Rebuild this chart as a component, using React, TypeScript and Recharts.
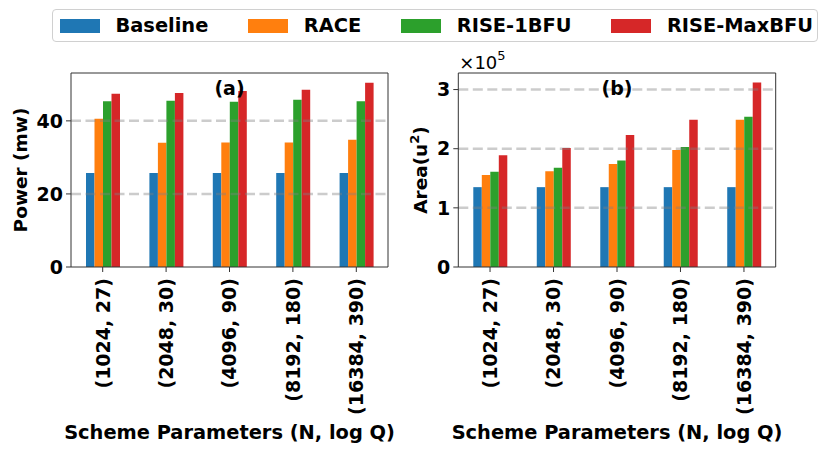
import React from "react";
import {
	BarChart,
	Bar,
	XAxis,
	YAxis,
	ReferenceLine,
} from "recharts";

const categories = ["(1024, 27)", "(2048, 30)", "(4096, 90)", "(8192, 180)", "(16384, 390)"];
const seriesNames = ["Baseline", "RACE", "RISE-1BFU", "RISE-MaxBFU"];
const seriesColors = ["#1f77b4", "#ff7f0e", "#2ca02c", "#d62728"];

// power in mW
const powerBaseline = [25.7, 25.7, 25.7, 25.7, 25.7];
const powerRace = [40.6, 34.0, 34.1, 34.1, 34.8];
const power1Bfu = [45.4, 45.5, 45.2, 45.8, 45.4];
const powerMaxBfu = [47.4, 47.6, 48.2, 48.5, 50.4];
const powerTicks = [0, 20, 40];

// area in u^2
const areaBaseline = [135000, 135000, 135000, 135000, 135000];
const areaRace = [155500, 162000, 174000, 198000, 249000];
const area1Bfu = [161000, 168000, 180000, 203000, 254000];
const areaMaxBfu = [189000, 201000, 223000, 249000, 312000];
const areaTicks = [0, 100000, 200000, 300000];

const FONT = "'DejaVu Sans', sans-serif";
const FRAME = "#333";
const W = 415;

const buildRows = (series: number[][]) =>
	categories.map((name, i) => {
		const row: any = { name };
		seriesNames.forEach((s, j) => {
			row[s] = series[j][i];
		});
		return row;
	});

const powerData = buildRows([powerBaseline, powerRace, power1Bfu, powerMaxBfu]);
const areaData = buildRows([areaBaseline, areaRace, area1Bfu, areaMaxBfu]);

const tickStyle = { fontFamily: FONT, fontWeight: "bold", fontSize: 19, fill: "#000" };

const XTick = (props: any) => {
	const { x, y, payload } = props;
	return (
		<g transform={`translate(${x},${y})`}>
			<text
				transform="rotate(-90)"
				textAnchor="end"
				dy="0.36em"
				{...tickStyle}
			>
				{payload.value}
			</text>
		</g>
	);
};

const xLabel = (cx: number) => (
	<text
		x={cx}
		y={439}
		textAnchor="middle"
		fontFamily={FONT}
		fontWeight="bold"
		fontSize={19.4}
		fill="#000"
	>
		Scheme Parameters (N, log Q)
	</text>
);

type PanelProps = {
	data: any[];
	domainMax: number;
	ticks: number[];
	left: number;
	margin: { top: number; right: number; bottom: number; left: number };
	yWidth: number;
	tickFmt: (v: number) => string;
	title: string;
	yLabel: React.ReactNode;
	yLabelX: number;
	extraTop?: (plotLeft: number) => React.ReactNode;
};

const Panel = ({
	data,
	domainMax,
	ticks,
	left,
	margin,
	yWidth,
	tickFmt,
	title,
	yLabel,
	yLabelX,
	extraTop,
}: PanelProps) => {
	const plotLeft = margin.left + yWidth;
	const plotRight = W - margin.right - 1;
	const cx = (plotLeft + plotRight) / 2;
	return (
		<div style={{ position: "absolute", left, top: 0, width: W, height: 454 }}>
			<BarChart
				width={W}
				height={454}
				data={data}
				margin={margin}
				barGap={0}
				barSize={8.5}
			>
				<XAxis
					dataKey="name"
					height={187}
					interval={0}
					tick={<XTick />}
					tickSize={5}
					tickMargin={6}
					tickLine={{ stroke: FRAME }}
					axisLine={{ stroke: FRAME }}
					label={{ content: () => xLabel(cx) }}
				/>
				<XAxis
					xAxisId="top"
					orientation="top"
					dataKey="name"
					height={1}
					tick={false}
					tickLine={false}
					axisLine={{ stroke: FRAME }}
					label={{
						content: () => (
							<g>
								<text
									x={cx}
									y={95}
									textAnchor="middle"
									fontFamily={FONT}
									fontWeight="bold"
									fontSize={19}
									fill="#000"
								>
									{title}
								</text>
								{extraTop ? extraTop(plotLeft) : null}
							</g>
						),
					}}
				/>
				<YAxis
					width={yWidth}
					domain={[0, domainMax]}
					ticks={ticks}
					tickFormatter={tickFmt}
					tick={tickStyle}
					tickSize={5}
					tickMargin={3}
					tickLine={{ stroke: FRAME }}
					axisLine={{ stroke: FRAME }}
					label={{
						content: () => (
							<text
								transform={`translate(${yLabelX},170) rotate(-90)`}
								textAnchor="middle"
								fontFamily={FONT}
								fontWeight="bold"
								fontSize={18.5}
								fill="#000"
							>
								{yLabel}
							</text>
						),
					}}
				/>
				<YAxis
					yAxisId="right"
					orientation="right"
					width={1}
					domain={[0, 1]}
					tick={false}
					tickLine={false}
					axisLine={{ stroke: FRAME }}
				/>
				{seriesNames.map((s, i) => (
					<Bar
						key={s}
						dataKey={s}
						fill={seriesColors[i]}
						isAnimationActive={false}
					/>
				))}
				{ticks
					.filter((t) => t > 0)
					.map((t) => (
						<ReferenceLine
							key={t}
							y={t}
							stroke="#808080"
							strokeOpacity={0.4}
							strokeWidth={2.5}
							strokeDasharray="10 4.5"
						/>
					))}
			</BarChart>
		</div>
	);
};

const Legend = () => (
	<div
		style={{
			position: "absolute",
			left: 52,
			top: 9,
			width: 766,
			height: 33,
			boxSizing: "border-box",
			border: "1.5px solid #d0d0d0",
			borderRadius: 4,
			display: "flex",
			alignItems: "center",
			paddingLeft: 6.5,
			fontFamily: FONT,
			fontWeight: "bold",
			fontSize: 19.4,
			color: "#000",
			background: "#fff",
		}}
	>
		{seriesNames.map((s, i) => (
			<div
				key={s}
				style={{
					display: "flex",
					alignItems: "center",
					marginRight: i < seriesNames.length - 1 ? 39.5 : 0,
				}}
			>
				<span
					style={{
						display: "inline-block",
						width: 40,
						height: 14,
						background: seriesColors[i],
						marginRight: 16,
					}}
				/>
				<span style={{ lineHeight: "20px" }}>{s}</span>
			</div>
		))}
	</div>
);

export default function App() {
	return (
		<div
			style={{
				position: "absolute",
				left: 0,
				top: 0,
				width: 830,
				height: 454,
				background: "#fff",
				overflow: "hidden",
			}}
		>
			<Panel
				data={powerData}
				domainMax={53.1}
				ticks={powerTicks}
				left={0}
				margin={{ top: 72, right: 26, bottom: 0, left: 11 }}
				yWidth={60}
				tickFmt={(v) => String(v)}
				title="(a)"
				yLabel="Power (mw)"
				yLabelX={27}
			/>
			<Panel
				data={areaData}
				domainMax={328000}
				ticks={areaTicks}
				left={400}
				margin={{ top: 72, right: 38.3, bottom: 0, left: 18.3 }}
				yWidth={40}
				tickFmt={(v) => String(v / 100000)}
				title="(b)"
				yLabel={
					<>
						Area(u
						<tspan dy={-8} fontSize={13}>
							2
						</tspan>
						<tspan dy={8}>)</tspan>
					</>
				}
				yLabelX={27}
				extraTop={(pl) => (
					<text x={pl + 1} y={69} fontFamily={FONT} fontSize={18} fill="#000">
						×10
						<tspan dy={-9} fontSize={13}>
							5
						</tspan>
					</text>
				)}
			/>
			<Legend />
		</div>
	);
}
